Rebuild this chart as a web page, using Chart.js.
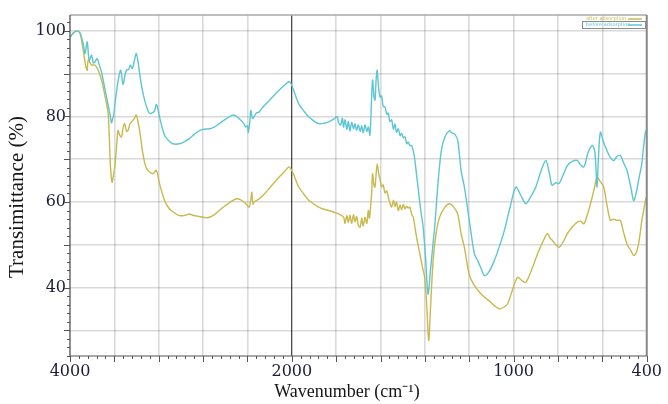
<!DOCTYPE html>
<html>
<head>
<meta charset="utf-8">
<script src="https://cdn.jsdelivr.net/npm/chart.js@4.4.0/dist/chart.umd.min.js"></script>
<style>
  html, body { margin: 0; padding: 0; background: #fff; }
  #wrap { width: 668px; height: 404px; }
</style>
</head>
<body>
<div id="wrap"><canvas id="ftir"></canvas></div>
<script>
// wavenumber (cm-1) and transmittance (%)
var cyanWn = [4000, 3970, 3940, 3910, 3881, 3865, 3845, 3827, 3805, 3790, 3776, 3755, 3731, 3716, 3701, 3686, 3665, 3641, 3626, 3615, 3605, 3590, 3565, 3543, 3522, 3505, 3491, 3470, 3456, 3438, 3420, 3402, 3385, 3372, 3350, 3327, 3300, 3282, 3240, 3222, 3205, 3193, 3170, 3148, 3110, 3073, 3013, 2960, 2924, 2880, 2834, 2790, 2744, 2700, 2655, 2600, 2535, 2500, 2460, 2430, 2415, 2400, 2392, 2380, 2370, 2355, 2341, 2320, 2296, 2250, 2200, 2176, 2120, 2070, 2027, 2010, 1991, 1969, 1945, 1924, 1900, 1879, 1855, 1834, 1810, 1795, 1789, 1780, 1772, 1767, 1760, 1752, 1745, 1738, 1730, 1722, 1715, 1708, 1700, 1692, 1685, 1678, 1670, 1662, 1655, 1648, 1642, 1636, 1630, 1625, 1620, 1615, 1609, 1602, 1595, 1588, 1580, 1572, 1565, 1558, 1550, 1542, 1535, 1528, 1520, 1512, 1505, 1497, 1490, 1482, 1475, 1468, 1460, 1452, 1445, 1438, 1431, 1420, 1408, 1397, 1386, 1375, 1363, 1356, 1340, 1326, 1310, 1289, 1282, 1265, 1252, 1237, 1222, 1200, 1177, 1162, 1147, 1132, 1110, 1087, 1065, 1042, 1015, 990, 970, 945, 920, 900, 875, 855, 840, 830, 825, 810, 795, 775, 758, 735, 713, 700, 683, 665, 646, 635, 628, 624, 618, 609, 595, 579, 565, 549, 535, 519, 505, 489, 470, 459, 448, 437, 422, 415, 407, 400];
var cyanT = [98.5, 99.5, 100, 99.5, 97, 94.7, 97.4, 93.1, 94.3, 92.5, 92.7, 93.5, 91.6, 90.4, 88.5, 86.5, 83.8, 80.7, 78.5, 79.5, 80.5, 84, 88.5, 90.8, 87.5, 89.5, 90.8, 91, 92, 91.2, 93, 94.7, 92.5, 90, 86.5, 83.8, 81.5, 80.7, 81.2, 82.8, 81.5, 79.9, 77.5, 75.6, 74.3, 73.6, 73.6, 74.2, 74.8, 75.8, 76.7, 77.0, 77.1, 77.5, 78.3, 79.3, 80.3, 80.0, 79.1, 78.2, 77.5, 77.8, 76.3, 78.5, 81.4, 79.5, 79.9, 80.8, 81.0, 82.5, 83.8, 84.5, 86.0, 87.2, 88.1, 87.8, 86, 83, 81.2, 79.9, 78.9, 78.3, 78.4, 78.7, 79.4, 79.9, 78.5, 78.0, 79.6, 77.5, 79.2, 77.0, 78.8, 76.6, 78.6, 77.1, 78.3, 76.8, 78.0, 76.5, 77.8, 76.2, 78.0, 76.5, 77.5, 75.6, 82, 88.5, 84.8, 83.8, 88.5, 90.8, 86.8, 84.5, 84.8, 82.3, 82.2, 80.5, 80.8, 78.8, 79.2, 77.0, 78.2, 76.3, 77.1, 75.5, 76.0, 75.0, 75.2, 73.6, 74.0, 73.2, 73.2, 71.8, 69.7, 66.5, 63.5, 58.5, 54.1, 47, 38.5, 44, 50.5, 54.1, 65, 72, 75.2, 76.7, 76.3, 75.8, 74.4, 67.4, 63.5, 55.7, 47.9, 46.3, 44.5, 42.8, 43.8, 46.3, 49.5, 53.3, 59, 63.5, 61.8, 59.6, 61.5, 63.5, 67.5, 69.7, 67.0, 64.2, 63.9, 64.5, 64.3, 66.5, 68.5, 69.5, 69.7, 68.8, 68.2, 71.5, 73.2, 72, 67, 63.5, 70, 76.3, 74, 72, 70.5, 69.7, 70.6, 70.9, 69.2, 67.4, 63, 60.3, 62.0, 65, 69, 72.5, 76, 77];

var oliveWn = [4000, 3970, 3940, 3910, 3881, 3857, 3845, 3836, 3805, 3776, 3746, 3716, 3695, 3671, 3656, 3647, 3635, 3621, 3610, 3596, 3580, 3567, 3550, 3536, 3520, 3507, 3490, 3477, 3460, 3447, 3420, 3402, 3385, 3372, 3343, 3320, 3298, 3253, 3222, 3193, 3148, 3120, 3088, 3050, 3013, 2960, 2924, 2894, 2834, 2760, 2700, 2655, 2580, 2505, 2460, 2415, 2385, 2370, 2361, 2350, 2341, 2296, 2250, 2206, 2160, 2116, 2070, 2027, 2010, 1991, 1969, 1945, 1924, 1900, 1879, 1855, 1834, 1810, 1789, 1767, 1760, 1752, 1745, 1738, 1730, 1722, 1715, 1708, 1700, 1692, 1685, 1678, 1670, 1662, 1655, 1650, 1645, 1640, 1636, 1630, 1625, 1620, 1615, 1608, 1602, 1595, 1588, 1580, 1572, 1565, 1558, 1550, 1542, 1535, 1528, 1520, 1512, 1505, 1497, 1490, 1482, 1475, 1468, 1460, 1452, 1445, 1435, 1423, 1410, 1401, 1392, 1383, 1375, 1363, 1350, 1334, 1310, 1289, 1270, 1252, 1237, 1222, 1200, 1177, 1147, 1125, 1102, 1080, 1065, 1045, 1027, 1005, 982, 960, 945, 920, 892, 870, 848, 835, 825, 810, 795, 775, 758, 735, 713, 698, 683, 665, 646, 635, 624, 610, 594, 580, 564, 550, 534, 519, 505, 489, 470, 459, 448, 437, 430, 422, 412, 403];
var oliveT = [98.5, 99.5, 100, 99.5, 95.5, 91.6, 90.8, 93.1, 92, 92, 90.8, 88.5, 86.1, 83, 80.7, 76, 68.2, 64.6, 66, 68.2, 73, 76.7, 75.5, 75.2, 77.5, 78.3, 76.5, 76.7, 78.2, 78.7, 79.5, 80.3, 78.5, 76.7, 71.3, 68.5, 67.4, 66.6, 67.4, 64.3, 60.4, 59.0, 58, 57.3, 56.8, 56.9, 57.2, 56.9, 56.6, 56.3, 57.0, 58, 59.5, 60.7, 60.5, 59.6, 58.8, 60.5, 62.3, 59.5, 60, 60.7, 61.8, 63.1, 64.5, 65.8, 67.0, 68.2, 67.8, 66.3, 63.5, 61.8, 60.4, 59.5, 58.8, 58.3, 58, 57.6, 57.2, 56.5, 55.0, 56.8, 55.2, 56.9, 55.0, 57.0, 55.4, 56.6, 54.5, 54.1, 56.2, 54.4, 56.4, 55.0, 58.0, 56.2, 58.8, 62, 66.6, 64, 63.5, 66.5, 68.9, 66.5, 65.2, 63.5, 64, 62.1, 62.6, 61.1, 59.8, 58.8, 60.4, 59.0, 60.0, 58.0, 59.3, 58.2, 59.4, 58.4, 59.0, 58.6, 58.8, 57.2, 56.4, 54.1, 51, 47.9, 44.5, 42.4, 36, 27.6, 35, 46.3, 52.5, 56.4, 58.8, 59.6, 58.8, 57.2, 52.6, 49.4, 43, 40.5, 38.5, 37.5, 36.5, 35.5, 35, 35.4, 36.2, 39.5, 42.4, 41.5, 41.2, 44, 47.9, 50.5, 52.6, 51.5, 51, 50.0, 49.4, 50.8, 52.6, 54.2, 55.3, 55.5, 54.9, 57.5, 61.1, 63.5, 65.8, 64.8, 63.5, 59.5, 55.7, 56.0, 55.7, 55.7, 53.0, 50.2, 48.5, 47.5, 48.0, 50.2, 52.5, 55.7, 58.5, 61.1];

var seriesNames = ['before adsorption', 'after adsorption'];
var xTickLabels = [4000, 2000, 1000, 400];
var yTickLabels = [40, 60, 80, 100];

// the spectrometer plots 4000-2000 at half the scale of 2000-400
function toAxis(wn) { return wn >= 2000 ? (4000 - wn) / 2 : 1000 + (2000 - wn); }
function fromAxis(u) { return u <= 1000 ? 4000 - 2 * u : 3000 - u; }

function points(wn, t) {
  return wn.map(function (w, i) { return { x: toAxis(w), y: t[i] }; });
}

var CYAN = '#5cc6d2';
var OLIVE = '#c9b94e';

// outward tick marks, plot frame, axis titles, little legend box
var decor = {
  id: 'decor',
  afterDraw: function (chart) {
    var c = chart.ctx, a = chart.chartArea;
    var xs = chart.scales.x, ys = chart.scales.y;
    c.save();
    c.strokeStyle = '#555';
    c.lineWidth = 1;
    c.beginPath();
    for (var u = 0; u <= 2600; u += 40) {
      var px = Math.round(xs.getPixelForValue(u)) + 0.5;
      c.moveTo(px, a.bottom);
      c.lineTo(px, a.bottom + (u % 200 === 0 ? 6 : 3));
    }
    for (var v = 24; v <= 102; v += 2) {
      var py = Math.round(ys.getPixelForValue(v)) + 0.5;
      c.moveTo(a.left, py);
      c.lineTo(a.left - (v % 10 === 0 ? 6 : 3), py);
    }
    c.stroke();

    // frame
    c.lineWidth = 1.5;
    c.strokeStyle = '#a8a8a8';
    c.beginPath();
    c.moveTo(a.left, a.top); c.lineTo(a.right, a.top);
    c.stroke();
    c.strokeStyle = '#8a8a8a';
    c.lineWidth = 2;
    c.beginPath();
    c.moveTo(a.right, a.top); c.lineTo(a.right, a.bottom);
    c.stroke();
    c.strokeStyle = '#555';
    c.lineWidth = 1.2;
    c.beginPath();
    c.moveTo(a.left, a.top); c.lineTo(a.left, a.bottom); c.lineTo(a.right, a.bottom);
    c.stroke();

    // axis titles
    c.fillStyle = '#151515';
    c.textAlign = 'center';
    c.textBaseline = 'middle';
    c.font = '18px "Liberation Serif"';
    c.fillText('Wavenumber (cm\u207B\u00B9)', 347, 392);
    c.translate(17, 197);
    c.rotate(-Math.PI / 2);
    c.font = '21px "Liberation Serif"';
    c.fillText('Transimittance (%)', 0, 0);
    c.restore();

    // legend
    c.save();
    c.font = '5px "DejaVu Sans"';
    c.textBaseline = 'middle';
    c.textAlign = 'left';
    c.fillStyle = OLIVE;
    c.fillText(seriesNames[1], 586, 19);
    c.fillStyle = CYAN;
    c.fillText(seriesNames[0], 586, 25);
    c.lineWidth = 1.5;
    c.strokeStyle = OLIVE;
    c.beginPath(); c.moveTo(628, 19); c.lineTo(642, 19); c.stroke();
    c.strokeStyle = CYAN;
    c.beginPath(); c.moveTo(628, 25); c.lineTo(642, 25); c.stroke();
    c.strokeStyle = '#888';
    c.lineWidth = 1;
    c.strokeRect(582.5, 21.5, 63, 7);
    c.restore();
  }
};

var ctx = document.getElementById('ftir');
var myChart = new Chart(ctx, {
  type: 'line',
  data: {
    datasets: [
      {
        label: seriesNames[0],
        data: points(cyanWn, cyanT),
        borderColor: CYAN,
        borderWidth: 1.4,
        pointRadius: 0,
        tension: 0.3,
        fill: false
      },
      {
        label: seriesNames[1],
        data: points(oliveWn, oliveT),
        borderColor: OLIVE,
        borderWidth: 1.4,
        pointRadius: 0,
        tension: 0.3,
        fill: false
      }
    ]
  },
  options: {
    responsive: true,
    maintainAspectRatio: false,
    animation: false,
    events: [],
    layout: { padding: { left: 0, right: 18, top: 15, bottom: 0 } },
    plugins: { legend: { display: false }, tooltip: { enabled: false } },
    scales: {
      x: {
        type: 'linear',
        min: 0,
        max: 2600,
        afterBuildTicks: function (scale) {
          var t = [];
          for (var u = 0; u <= 2600; u += 200) t.push({ value: u });
          scale.ticks = t;
        },
        afterFit: function (scale) { scale.height = 48; },
        border: { display: false },
        grid: {
          drawTicks: false,
          color: function (c) { return c.tick && c.tick.value === 1000 ? '#4a4a4a' : 'rgba(0,0,0,0.15)'; },
          lineWidth: function (c) { return c.tick && c.tick.value === 1000 ? 1.3 : 1.6; }
        },
        ticks: {
          autoSkip: false,
          maxRotation: 0,
          padding: 6,
          color: '#1c1c3a',
          font: { family: 'DejaVu Serif', size: 16 },
          callback: function (v) {
            var w = fromAxis(v);
            return xTickLabels.indexOf(w) >= 0 ? String(w) : '';
          }
        }
      },
      y: {
        min: 24,
        max: 103.7,
        afterBuildTicks: function (scale) {
          var t = [];
          for (var v = 30; v <= 100; v += 10) t.push({ value: v });
          scale.ticks = t;
        },
        afterFit: function (scale) { scale.width = 70; },
        border: { display: false },
        grid: { drawTicks: false, color: 'rgba(0,0,0,0.15)', lineWidth: 1.6 },
        ticks: {
          autoSkip: false,
          padding: 4,
          color: '#1c1c3a',
          font: { family: 'DejaVu Serif', size: 16 },
          callback: function (v) { return yTickLabels.indexOf(v) >= 0 ? String(v) : ''; }
        }
      }
    }
  },
  plugins: [decor]
});
</script>
</body>
</html>
